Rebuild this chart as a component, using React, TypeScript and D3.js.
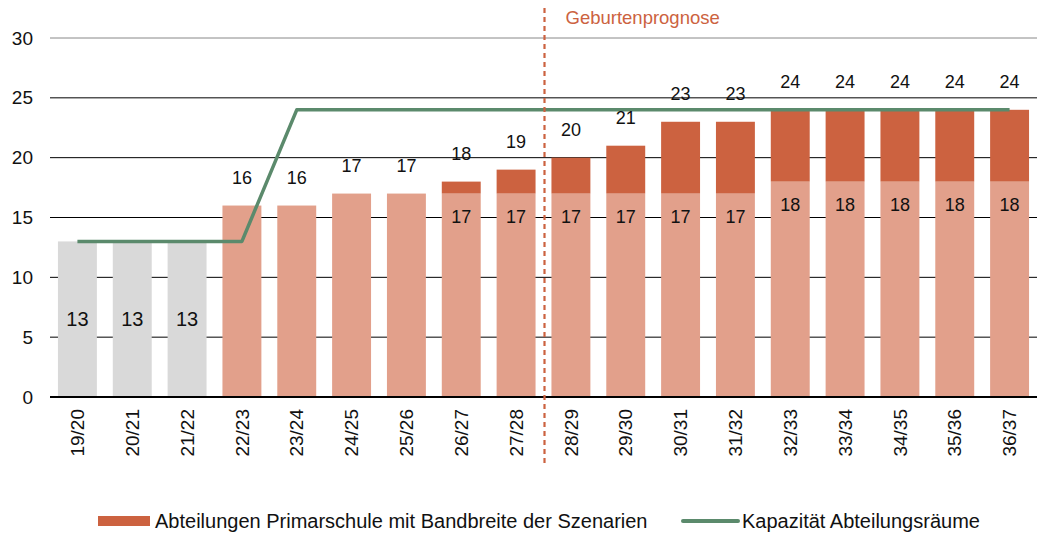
import * as d3 from 'd3'

const categories = [
  '19/20', '20/21', '21/22', '22/23', '23/24', '24/25', '25/26', '26/27', '27/28',
  '28/29', '29/30', '30/31', '31/32', '32/33', '33/34', '34/35', '35/36', '36/37',
]
// base part of each bar (light), total incl. scenario range (dark top)
const baseValues = [13, 13, 13, 16, 16, 17, 17, 17, 17, 17, 17, 17, 17, 18, 18, 18, 18, 18]
const totalValues = [13, 13, 13, 16, 16, 17, 17, 18, 19, 20, 21, 23, 23, 24, 24, 24, 24, 24]
const capacity = [13, 13, 13, 13, 24, 24, 24, 24, 24, 24, 24, 24, 24, 24, 24, 24, 24, 24]
const historicCount = 3
const forecastStart = '28/29'
const yTicks = [0, 5, 10, 15, 20, 25, 30]

const W = 1039
const H = 536
const margin = { top: 38, right: 2, bottom: 139, left: 50 }

const C = {
  grey: '#d9d9d9',
  light: '#e2a08b',
  dark: '#cc6240',
  green: '#5b8a6c',
  text: '#111',
}

export default function App() {
  const w = W - margin.left - margin.right
  const h = H - margin.top - margin.bottom
  const x = d3.scaleBand<string>().domain(categories).range([0, w]).paddingInner(0.29).paddingOuter(0.145)
  const y = d3.scaleLinear().domain([0, 30]).range([h, 0])
  const cx = (c: string) => (x(c) ?? 0) + x.bandwidth() / 2
  const line = d3
    .line<number>()
    .x((_, i) => cx(categories[i]))
    .y(d => y(d))
  const step = x.step()
  const splitX = (x(forecastStart) ?? 0) - (step - x.bandwidth()) / 2 + 1
  const font = '"Liberation Sans", Arial, sans-serif'

  return (
    <svg width={W} height={H} style={{ position: 'absolute', left: 0, top: 0, fontFamily: font }}>
      <g transform={`translate(${margin.left},${margin.top})`}>
        {/* grid */}
        {yTicks.map(t => (
          <g key={t} transform={`translate(0,${y(t)})`}>
            {t > 0 && <line x2={w} stroke={t === 30 ? '#888' : '#000'} strokeWidth={1} />}
            <text x={-17} dy="0.35em" textAnchor="end" fontSize={19} fill={C.text}>
              {t}
            </text>
          </g>
        ))}
        {/* bars */}
        {categories.map((c, i) => {
          const hist = i < historicCount
          const base = baseValues[i]
          const total = totalValues[i]
          return (
            <g key={c}>
              <rect x={x(c)} width={x.bandwidth()} y={y(base)} height={y(0) - y(base)} fill={hist ? C.grey : C.light} />
              {total > base && (
                <rect x={x(c)} width={x.bandwidth()} y={y(total)} height={y(base) - y(total)} fill={C.dark} />
              )}
            </g>
          )
        })}
        <line x1={0} x2={w} y1={y(0)} y2={y(0)} stroke="#000" strokeWidth={2} />
        {/* capacity line */}
        <path d={line(capacity) ?? ''} fill="none" stroke={C.green} strokeWidth={3.5} strokeLinejoin="round" />
        {/* labels */}
        {categories.map((c, i) => {
          const hist = i < historicCount
          const base = baseValues[i]
          const total = totalValues[i]
          return (
            <g key={c} fontSize={18} fill={C.text} textAnchor="middle">
              {hist ? (
                <text x={cx(c)} y={y(base / 2)} dy="0.35em" fontSize={20}>{base}</text>
              ) : (
                <text x={cx(c)} y={y(total) - 28} dy="0.35em">{total}</text>
              )}
              {total > base && (
                <text x={cx(c)} y={y(base) + 23} dy="0.35em">{base}</text>
              )}
              <text
                transform={`translate(${cx(c)},${y(0) + 12}) rotate(-90)`}
                textAnchor="end"
                dy="0.35em"
                fontSize={19}
              >
                {c}
              </text>
            </g>
          )
        })}
        {/* forecast divider */}
        <line x1={splitX} x2={splitX} y1={-30} y2={h + 70} stroke={C.dark} strokeWidth={2.2} strokeDasharray="5,4" />
        <text x={splitX + 21} y={-20} dy="0.35em" fontSize={18.5} fill={C.dark}>
          Geburtenprognose
        </text>
      </g>
      {/* legend */}
      <g fontSize={20} fill={C.text}>
        <rect x={98} y={516} width={52} height={10} fill={C.dark} />
        <text x={155} y={521} dy="0.35em">Abteilungen Primarschule mit Bandbreite der Szenarien</text>
        <line x1={683} x2={738} y1={521} y2={521} stroke={C.green} strokeWidth={4} strokeLinecap="round" />
        <text x={742} y={521} dy="0.35em">Kapazität Abteilungsräume</text>
      </g>
    </svg>
  )
}
